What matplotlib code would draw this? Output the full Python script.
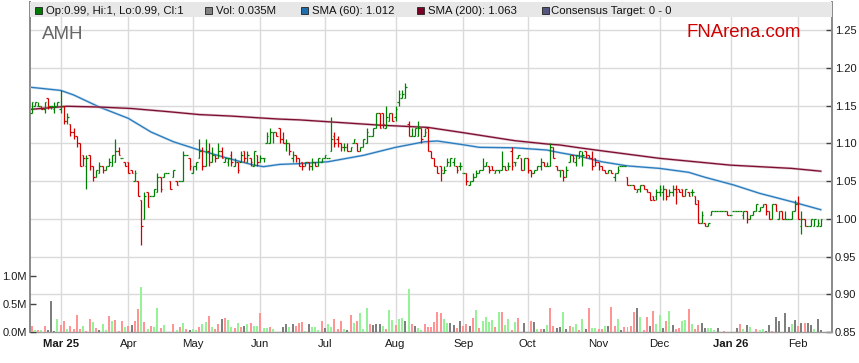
import matplotlib
matplotlib.use('Agg')
import matplotlib.pyplot as plt
from matplotlib.patches import Rectangle
import numpy as np

plt.rcParams['font.family'] = ['Liberation Sans', 'DejaVu Sans']

# ---------------- data ----------------
opens = [
1.14,1.15,1.15,1.15,1.145,1.16,1.15,1.145,1.15,1.145,
1.15,1.13,1.125,1.115,1.11,1.10,1.085,1.07,1.085,1.07,
1.055,1.06,1.07,1.065,1.07,1.07,1.075,1.09,1.08,1.075,
1.075,1.065,1.05,1.05,1.025,1.00,1.035,1.03,1.03,1.035,
1.055,1.055,1.06,1.05,1.055,1.05,1.05,1.05,1.085,1.08,
1.06,1.07,1.08,1.09,1.07,1.09,1.075,1.085,1.08,1.09,
1.075,1.075,1.085,1.07,1.075,1.075,1.09,1.075,1.08,1.07,
1.085,1.075,1.08,1.10,1.10,1.115,1.115,1.12,1.105,1.10,
1.10,1.08,1.085,1.08,1.075,1.07,1.075,1.07,1.075,1.07,
1.075,1.08,1.08,1.09,1.11,1.105,1.10,1.095,1.095,1.09,
1.10,1.10,1.09,1.095,1.10,1.11,1.11,1.12,1.14,1.14,
1.12,1.13,1.14,1.135,1.155,1.16,1.16,1.125,1.11,1.11,
1.11,1.12,1.11,1.12,1.09,1.08,1.07,1.07,1.06,1.07,
1.07,1.075,1.07,1.07,1.06,1.06,1.045,1.05,1.055,1.06,
1.065,1.07,1.07,1.07,1.06,1.065,1.065,1.07,1.07,1.09,
1.075,1.08,1.08,1.065,1.08,1.065,1.06,1.065,1.07,1.075,
1.07,1.07,1.095,1.07,1.065,1.065,1.055,1.075,1.085,1.075,
1.08,1.085,1.09,1.085,1.08,1.08,1.075,1.07,1.065,1.06,
1.065,1.055,1.06,1.07,1.07,1.055,1.045,1.045,1.035,1.04,
1.045,1.04,1.035,1.03,1.03,1.035,1.035,1.04,1.03,1.035,
1.04,1.04,1.04,1.03,1.035,1.035,1.03,1.025,0.995,0.995,
0.99,1.005,1.01,1.01,1.01,1.01,1.01,1.005,1.01,1.01,
1.01,1.005,1.01,1.00,1.005,1.01,1.01,1.015,1.02,1.01,
1.00,1.02,1.00,1.01,1.00,1.00,1.00,1.01,1.02,0.99,
1.00,0.99,0.99,0.99,0.99,0.99]

highs = [
1.155,1.155,1.155,1.15,1.155,1.16,1.15,1.155,1.155,1.17,
1.15,1.14,1.125,1.12,1.11,1.10,1.085,1.085,1.085,1.07,
1.065,1.075,1.07,1.07,1.08,1.085,1.105,1.095,1.08,1.075,
1.075,1.065,1.065,1.05,1.025,1.035,1.035,1.03,1.04,1.06,
1.055,1.06,1.06,1.05,1.065,1.05,1.05,1.09,1.085,1.08,
1.07,1.075,1.105,1.095,1.105,1.10,1.095,1.085,1.10,1.095,
1.08,1.08,1.09,1.08,1.075,1.09,1.09,1.09,1.08,1.09,
1.085,1.085,1.08,1.115,1.12,1.115,1.115,1.12,1.115,1.105,
1.10,1.09,1.085,1.08,1.075,1.075,1.075,1.08,1.075,1.08,
1.08,1.085,1.08,1.135,1.115,1.11,1.10,1.10,1.10,1.095,
1.105,1.10,1.095,1.105,1.12,1.11,1.12,1.14,1.14,1.14,
1.15,1.14,1.14,1.15,1.17,1.17,1.18,1.13,1.12,1.12,
1.13,1.12,1.12,1.12,1.09,1.08,1.07,1.07,1.07,1.08,
1.08,1.08,1.07,1.075,1.06,1.06,1.05,1.06,1.065,1.065,
1.08,1.075,1.07,1.07,1.065,1.065,1.09,1.07,1.075,1.095,
1.075,1.085,1.08,1.08,1.08,1.065,1.065,1.07,1.08,1.075,
1.075,1.10,1.095,1.07,1.065,1.065,1.07,1.085,1.085,1.085,
1.09,1.09,1.09,1.085,1.09,1.08,1.075,1.07,1.065,1.065,
1.065,1.06,1.07,1.07,1.07,1.055,1.045,1.045,1.04,1.045,
1.045,1.04,1.035,1.03,1.04,1.045,1.045,1.04,1.04,1.045,
1.045,1.04,1.04,1.04,1.035,1.04,1.03,1.025,1.01,0.995,
0.995,1.01,1.01,1.01,1.01,1.01,1.01,1.005,1.01,1.01,
1.01,1.01,1.01,1.005,1.01,1.02,1.015,1.02,1.02,1.01,
1.02,1.02,1.01,1.01,1.01,1.00,1.01,1.025,1.03,1.01,
1.00,0.99,1.00,1.00,1.00,1.00]

lows = [
1.14,1.15,1.15,1.145,1.14,1.145,1.145,1.14,1.15,1.14,
1.125,1.125,1.11,1.105,1.095,1.07,1.07,1.04,1.065,1.05,
1.055,1.06,1.06,1.065,1.07,1.07,1.075,1.085,1.08,1.07,
1.06,1.06,1.05,1.03,0.965,1.00,1.015,1.03,1.03,1.035,
1.035,1.055,1.06,1.04,1.055,1.045,1.05,1.05,1.085,1.065,
1.06,1.065,1.08,1.065,1.07,1.07,1.075,1.075,1.08,1.08,
1.075,1.07,1.07,1.07,1.06,1.075,1.075,1.075,1.07,1.07,
1.07,1.075,1.075,1.10,1.10,1.10,1.11,1.10,1.10,1.09,
1.085,1.075,1.075,1.07,1.065,1.07,1.065,1.065,1.07,1.07,
1.075,1.08,1.08,1.09,1.095,1.095,1.09,1.09,1.09,1.09,
1.10,1.09,1.09,1.095,1.10,1.11,1.11,1.12,1.12,1.12,
1.12,1.13,1.13,1.13,1.15,1.16,1.16,1.11,1.11,1.11,
1.11,1.10,1.11,1.09,1.08,1.07,1.06,1.05,1.06,1.07,
1.07,1.07,1.06,1.065,1.06,1.045,1.045,1.05,1.055,1.06,
1.065,1.07,1.06,1.065,1.06,1.06,1.065,1.065,1.065,1.065,
1.07,1.08,1.065,1.065,1.06,1.055,1.06,1.065,1.065,1.07,
1.07,1.07,1.08,1.065,1.055,1.05,1.055,1.075,1.075,1.07,
1.08,1.07,1.08,1.08,1.065,1.07,1.065,1.065,1.06,1.06,
1.06,1.05,1.06,1.07,1.07,1.045,1.045,1.04,1.035,1.035,
1.04,1.035,1.025,1.025,1.025,1.03,1.025,1.025,1.03,1.03,
1.02,1.035,1.03,1.03,1.03,1.03,1.02,0.995,0.995,0.99,
0.99,1.005,1.01,1.01,1.01,1.01,1.005,1.005,1.01,1.01,
1.01,1.00,0.995,1.00,1.005,1.01,1.01,1.015,1.005,1.00,
1.00,1.01,1.00,1.00,1.00,1.00,1.00,1.01,1.00,0.98,
0.99,0.99,0.99,0.99,0.99,0.99]

closes = [
1.155,1.155,1.15,1.145,1.155,1.15,1.15,1.15,1.155,1.15,
1.13,1.135,1.115,1.11,1.10,1.07,1.08,1.08,1.07,1.055,
1.065,1.07,1.065,1.07,1.075,1.085,1.09,1.085,1.08,1.07,
1.06,1.06,1.06,1.03,0.99,1.03,1.015,1.03,1.04,1.055,
1.04,1.06,1.06,1.04,1.065,1.045,1.05,1.085,1.085,1.07,
1.07,1.075,1.09,1.07,1.09,1.075,1.085,1.08,1.09,1.08,
1.08,1.08,1.075,1.075,1.065,1.085,1.08,1.085,1.075,1.09,
1.075,1.08,1.08,1.11,1.115,1.115,1.11,1.105,1.10,1.10,
1.09,1.085,1.08,1.07,1.07,1.075,1.07,1.075,1.07,1.08,
1.08,1.085,1.08,1.105,1.10,1.10,1.095,1.095,1.09,1.095,
1.105,1.09,1.095,1.105,1.115,1.11,1.12,1.14,1.12,1.125,
1.135,1.14,1.13,1.145,1.165,1.165,1.175,1.11,1.11,1.12,
1.12,1.105,1.115,1.09,1.08,1.07,1.06,1.065,1.065,1.075,
1.08,1.08,1.065,1.07,1.06,1.05,1.05,1.055,1.06,1.065,
1.07,1.075,1.065,1.065,1.065,1.065,1.07,1.065,1.07,1.07,
1.075,1.085,1.065,1.08,1.065,1.06,1.065,1.07,1.075,1.07,
1.07,1.095,1.08,1.065,1.065,1.055,1.065,1.085,1.08,1.085,
1.09,1.085,1.085,1.08,1.07,1.075,1.07,1.065,1.06,1.065,
1.06,1.06,1.065,1.07,1.07,1.045,1.045,1.04,1.04,1.045,
1.04,1.035,1.025,1.025,1.035,1.04,1.04,1.03,1.035,1.04,
1.035,1.035,1.03,1.04,1.03,1.035,1.02,0.995,1.005,0.99,
0.995,1.01,1.01,1.01,1.01,1.01,1.005,1.005,1.01,1.01,
1.01,1.01,1.00,1.005,1.01,1.02,1.015,1.02,1.01,1.00,
1.02,1.01,1.01,1.00,1.00,1.00,1.01,1.02,1.00,1.00,
0.99,0.99,1.00,1.00,0.995,1.00]

volumes_m = [
.10,.04,.04,.04,.11,.04,.55,.02,.23,.12,
.20,.05,.10,.06,.30,.06,.11,.02,.23,.18,
.08,.04,.14,.04,.29,.20,.21,.02,.20,.09,
.11,.12,.20,.41,.81,.17,.05,.11,.09,.43,
.07,.12,0,0,.14,.04,.09,.16,.05,.04,
.05,.04,.09,.14,.17,.29,.09,.06,.14,.23,
.25,.21,.09,.07,.16,.09,.11,.14,.16,.11,
.11,.34,.07,.07,.09,.05,0,0,.09,.14,
.09,.14,.11,.16,.18,.02,.14,.09,.09,.04,
.20,.07,.14,.09,.23,.05,.20,.05,.04,.30,
.16,.20,.34,.05,.43,.14,.12,.14,.14,.11,
.05,.39,.21,.12,.23,.25,.20,.77,.14,.11,
.07,.04,.14,.09,
.09,.18,.36,.34,.23,.16,.16,.12,.07,.20,
.11,.14,.11,.25,.39,.07,.20,.27,.18,.21,
.09,.36,.36,.12,.23,.04,.18,.25,0,.16,
0,.20,.18,.05,.05,.05,.12,.43,.11,.07,
.09,.36,.05,.11,.09,.14,.04,.23,.05,.43,
.07,.07,.05,.05,.11,.11,.45,.11,.23,.03,
.09,.09,.11,.36,.43,.27,.04,.27,.11,.38,
.14,.30,.07,.20,.38,.12,.05,.07,.20,.21,
.41,.14,.05,.12,.16,.07,.07,.07,.04,.07,
0,.02,0,0,0,.07,.14,.05,.12,.09,
0,.05,.04,.05,.02,.12,.02,.27,.20,0,
.34,.09,.14,.21,.11,.16,.16,.16,.12,.05,
.23,.035]

# day-on-day change direction shown by the volume bar colour (1 up, -1 down, 0 unchanged)
vol_change = [
-1,1,-1,1,-1,0,0,0,1,-1,
-1,1,-1,-1,-1,-1,1,-1,-1,1,
-1,0,1,1,-1,1,-1,-1,-1,1,
-1,0,-1,-1,1,-1,1,-1,1,1,
-1,1,0,0,-1,1,-1,1,-1,0,
1,1,-1,1,1,-1,1,-1,-1,0,
-1,1,1,-1,1,-1,0,1,-1,1,
1,-1,1,1,-1,1,0,0,0,0,
1,0,-1,-1,-1,1,0,1,1,1,
-1,0,1,1,-1,-1,-1,1,0,-1,
1,-1,1,1,1,-1,0,0,0,1,
-1,1,1,-1,1,1,0,1,-1,0,
1,1,-1,-1,
-1,-1,-1,-1,1,1,0,0,-1,0,
-1,-1,0,-1,1,-1,1,1,1,1,
-1,1,-1,1,1,-1,1,-1,0,0,
0,-1,0,1,-1,0,1,-1,-1,0,
0,1,0,-1,1,1,-1,1,0,-1,
1,1,-1,-1,1,0,-1,-1,1,0,
-1,-1,-1,-1,0,1,-1,-1,0,-1,
1,1,0,-1,1,0,-1,-1,1,1,
-1,1,-1,-1,0,0,1,1,1,0,
0,-1,0,0,0,0,-1,1,0,1,
0,-1,1,1,0,0,-1,0,0,0,
0,0,1,0,-1,0,-1,0,0,1,
0,0]

sma60_bar = [0, 9, 13, 21, 30, 37, 44, 52, 61, 69, 72, 77, 83, 92, 103, 113, 122,
             126, 134, 139, 150, 160, 164, 170, 177, 185, 195, 204, 209, 218, 226, 236, 245]
sma60_val = [1.174, 1.170, 1.164, 1.148, 1.133, 1.115, 1.102, 1.091, 1.080, 1.071, 1.069,
             1.072, 1.073, 1.0755, 1.084, 1.0946, 1.102, 1.103, 1.098, 1.0946, 1.094, 1.091,
             1.0875, 1.083, 1.0755, 1.070, 1.0667, 1.0615, 1.055, 1.0447, 1.0337, 1.0226, 1.012]

sma200_bar = [0, 11, 21, 31, 42, 52, 62, 73, 77, 83, 92, 108, 123, 134, 150, 160, 164,
              170, 177, 195, 217, 236, 245]
sma200_val = [1.145, 1.149, 1.148, 1.146, 1.142, 1.138, 1.136, 1.133, 1.132, 1.131, 1.1285,
              1.124, 1.121, 1.114, 1.1034, 1.099, 1.0977, 1.094, 1.090, 1.080, 1.071, 1.0667, 1.063]

month_bar = [9, 30, 50, 71, 91, 113, 134, 154, 176, 195, 217, 238]
month_labels = ['Mar 25', 'Apr', 'May', 'Jun', 'Jul', 'Aug', 'Sep', 'Oct', 'Nov', 'Dec', 'Jan 26', 'Feb']
year_labels = ['Mar 25', 'Jan 26']

price_ticks = [0.85, 0.90, 0.95, 1.00, 1.05, 1.10, 1.15, 1.20, 1.25]
vol_ticks = [0.0, 0.5, 1.0]
vol_tick_labels = ['0.0M', '0.5M', '1.0M']

legend_labels = ['Op:0.99, Hi:1, Lo:0.99, Cl:1', 'Vol: 0.035M', 'SMA (60): 1.012',
                 'SMA (200): 1.063', 'Consensus Target: 0 - 0']
ticker = 'AMH'
brand = 'FNArena.com'

# ---------------- drawing ----------------
W, H = 859, 363
fig = plt.figure(figsize=(W / 100, H / 100), dpi=100)
fig.patch.set_facecolor('white')

plot_left, plot_right, plot_top, plot_bottom = 30, 832, 1.7, 332
ax = fig.add_axes([plot_left / W, (H - plot_bottom) / H,
                   (plot_right - plot_left) / W, (plot_bottom - plot_top) / H])
axv = ax.twinx()

o = np.array(opens); h = np.array(highs); l = np.array(lows); c = np.array(closes)
x = np.arange(len(c))

ax.set_xlim(-0.53, 248.5)
ax.set_ylim(0.85, 1.2875)

grid_col = '#dadada'
ax.set_axisbelow(True)
ax.yaxis.tick_right()
ax.yaxis.set_label_position('right')
ax.set_yticks(price_ticks)
ax.set_yticklabels(['%.2f' % t for t in price_ticks])
ax.set_xticks(month_bar)
ax.set_xticklabels(month_labels)
for lab in ax.get_xticklabels():
    if lab.get_text() in year_labels:
        lab.set_fontweight('bold')
ax.grid(True, color=grid_col, lw=1.0)
ax.tick_params(axis='y', which='both', direction='in', length=4, width=1, color='#444444',
               labelsize=8.0, pad=2.2, labelcolor='#1a1a1a', left=False, labelleft=False,
               right=True, labelright=True)
ax.tick_params(axis='x', length=0, labelsize=8.2, pad=5, labelcolor='#1a1a1a')

up_col, dn_col = '#008000', '#d40000'
cols = np.where(c >= o, up_col, dn_col)
ax.vlines(x, l, h, colors=cols, lw=0.9, zorder=4)
ax.hlines(o, x - 0.5, x, colors=cols, lw=0.9, zorder=4)
ax.hlines(c, x, x + 0.5, colors=cols, lw=0.9, zorder=4)

# SMA lines with soft halo
ax.plot(sma60_bar, sma60_val, color='#a9cbe8', lw=1.9, alpha=0.6, zorder=3)
ax.plot(sma60_bar, sma60_val, color='#2a7cbd', lw=0.95, zorder=3)
ax.plot(sma200_bar, sma200_val, color='#cfa0b2', lw=1.9, alpha=0.6, zorder=3)
ax.plot(sma200_bar, sma200_val, color='#7d0f30', lw=0.95, zorder=3)

for side in ['left', 'right']:
    ax.spines[side].set_color('#8a8a8a')
    ax.spines[side].set_linewidth(1.4)
ax.spines['bottom'].set_color('#9a9a9a')
ax.spines['bottom'].set_linewidth(1.0)
ax.spines['top'].set_visible(False)

# volume on twin axis (left scale)
axv.patch.set_visible(False)
axv.set_ylim(0, (plot_bottom - plot_top) / 56.0)
vol_col_map = {1: '#96f296', -1: '#ff9494', 0: '#7f7f7f'}
vcols = [vol_col_map[d] for d in vol_change]
axv.bar(x, volumes_m, width=0.62, color=vcols, zorder=2, linewidth=0)
axv.yaxis.tick_left()
axv.yaxis.set_label_position('left')
axv.set_yticks(vol_ticks)
axv.set_yticklabels(vol_tick_labels)
axv.tick_params(axis='y', direction='in', length=4, width=1, color='#444444',
                labelsize=8.0, pad=2.2, labelcolor='#1a1a1a', left=True, labelleft=True,
                right=False, labelright=False)
for sp in axv.spines.values():
    sp.set_visible(False)

# legend band
band_frac = (plot_bottom - 17) / (plot_bottom - plot_top)
ax.add_patch(Rectangle((0, band_frac), 1, 1 - band_frac, transform=ax.transAxes,
                       facecolor='#e7e7e7', edgecolor='none', zorder=5, clip_on=False))

legend_sq = [35, 204.5, 300.5, 417, 542]
legend_tx = [46.5, 216, 311.5, 428, 551]
legend_col = ['#007a00', '#808080', '#1f6fb0', '#7a0025', '#55557f']
ly = 10.5
for sx, tx, col, lab in zip(legend_sq, legend_tx, legend_col, legend_labels):
    fig.patches.append(Rectangle((sx / W, 1 - (ly + 3.5) / H), 7 / W, 7 / H,
                                 transform=fig.transFigure, facecolor=col,
                                 edgecolor='#222222', lw=0.6, zorder=10))
    fig.text(tx / W, 1 - ly / H, lab, fontsize=8.2, color='#111111', va='center', ha='left', zorder=11)

fig.text(41.5 / W, 1 - 39.3 / H, ticker, fontsize=13.5, color='#666666', va='baseline', ha='left')
fig.text(686.5 / W, 1 - 37.3 / H, brand, fontsize=13.4, color='#d00000', va='baseline', ha='left')

fig.savefig('out.png', dpi=100)
